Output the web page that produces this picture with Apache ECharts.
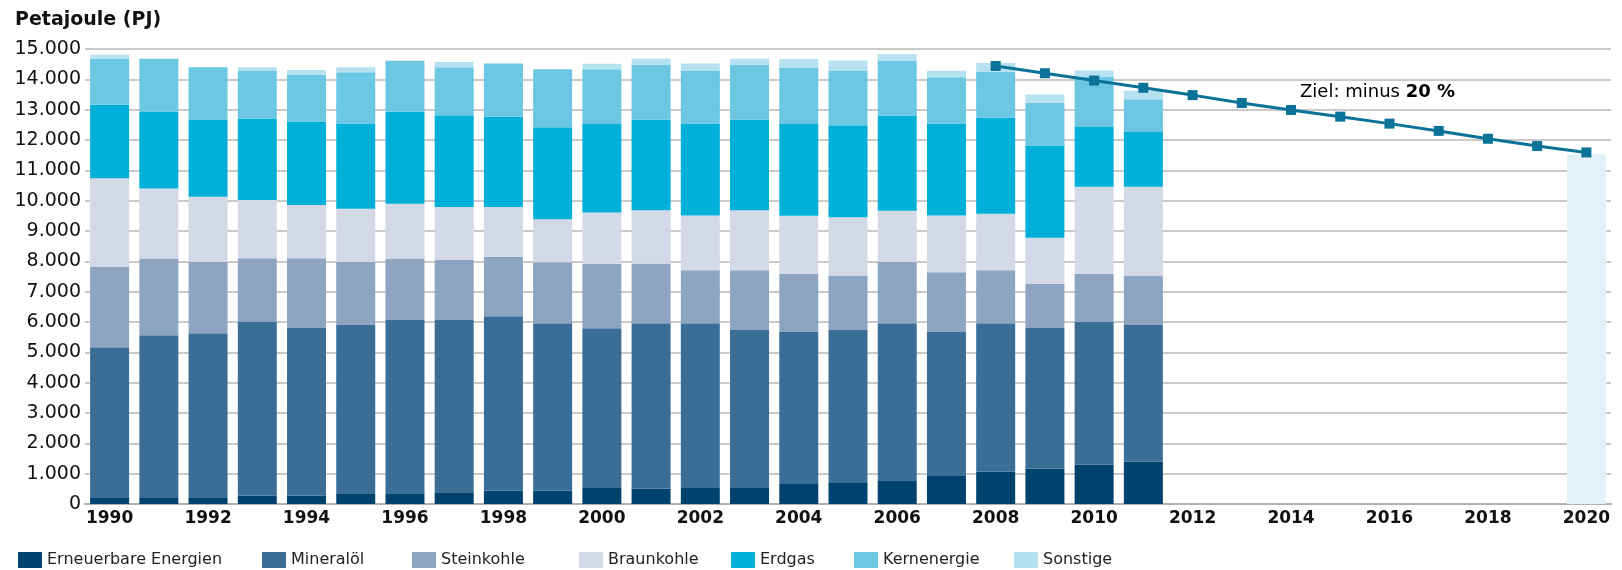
<!DOCTYPE html>
<html>
<head>
<meta charset="UTF-8">
<title>Energieverbrauch</title>
<script src="https://cdn.jsdelivr.net/npm/echarts@6/dist/echarts.min.js"></script>
<style>
  html, body { margin: 0; padding: 0; background: #fff; }
  #main { width: 1622px; height: 570px; }
</style>
</head>
<body>
<div id="main"></div>
<script>
// Jahre 1990 - 2020
var years = [];
for (var y = 1990; y <= 2020; y++) years.push(String(y));

// Primärenergieverbrauch je Träger (PJ), 1990 - 2011
var erneuerbare = [220, 220, 220, 280, 280, 330, 330, 390, 440, 440, 550, 500, 550, 550, 660, 720, 780, 950, 1060, 1170, 1290, 1400];
var mineraloel  = [4950, 5340, 5410, 5740, 5520, 5570, 5740, 5680, 5750, 5520, 5240, 5460, 5410, 5190, 5010, 5020, 5180, 4720, 4900, 4630, 4720, 4500];
var steinkohle  = [2640, 2530, 2350, 2080, 2300, 2080, 2020, 1970, 1960, 2010, 2130, 1970, 1750, 1970, 1910, 1790, 2020, 1970, 1750, 1460, 1580, 1630];
var braunkohle  = [2930, 2310, 2150, 1920, 1760, 1750, 1810, 1750, 1640, 1420, 1690, 1750, 1800, 1970, 1920, 1920, 1690, 1870, 1860, 1520, 2870, 2930];
var erdgas      = [2420, 2540, 2530, 2690, 2750, 2810, 3030, 3030, 2980, 3030, 2920, 2990, 3030, 2990, 3030, 3040, 3140, 3030, 3160, 3040, 1970, 1800];
var kernenergie = [1520, 1740, 1740, 1580, 1530, 1690, 1680, 1580, 1750, 1910, 1800, 1800, 1750, 1800, 1860, 1800, 1810, 1530, 1520, 1410, 1660, 1080];
var sonstige    = [130, 0, 0, 110, 170, 170, 0, 170, 0, 0, 180, 210, 230, 210, 280, 330, 210, 210, 290, 270, 200, 280];

// Zielpfad 2008 - 2020 und Zielwert 2020
var zielJahre = ['2008', '2009', '2010', '2011', '2012', '2013', '2014', '2015', '2016', '2017', '2018', '2019', '2020'];
var zielWerte = [14440, 14200, 13960, 13720, 13480, 13220, 12990, 12770, 12540, 12300, 12040, 11800, 11590];
var ziel2020 = 11530;

var chart = echarts.init(document.getElementById('main'));

function pad(arr) {
	var out = arr.slice();
	while (out.length < years.length) out.push(null);
	return out;
}

var zielLinie = years.map(function (yr) {
	var i = zielJahre.indexOf(yr);
	return i < 0 ? null : zielWerte[i];
});
var zielBalken = years.map(function (yr) {
	return yr === '2020' ? ziel2020 : null;
});

var font = 'DejaVu Sans';
var names = ['Erneuerbare Energien', 'Mineralöl', 'Steinkohle', 'Braunkohle', 'Erdgas', 'Kernenergie', 'Sonstige'];
var colors = ['#00426e', '#3b6e96', '#8ea5c1', '#d3d9e6', '#00b0d8', '#6bc7e2', '#b5e1f0'];
var werte = [erneuerbare, mineraloel, steinkohle, braunkohle, erdgas, kernenergie, sonstige];
var legendLeft = [18, 262, 412, 579, 731, 854, 1014];

var series = names.map(function (n, i) {
	return {
		name: n,
		type: 'bar',
		stack: 'pj',
		barWidth: 39,
		itemStyle: { color: colors[i] },
		data: pad(werte[i])
	};
});
series.push({
	name: 'Ziel 2020',
	type: 'bar',
	stack: 'pj',
	barWidth: 39,
	itemStyle: { color: '#e3f2f8' },
	data: zielBalken
});
series.push({
	name: 'Zielpfad',
	type: 'line',
	data: zielLinie,
	symbol: 'rect',
	symbolSize: 10,
	z: 5,
	lineStyle: { color: '#0b7398', width: 3 },
	itemStyle: { color: '#0b7398' }
});

// jede Legende einzeln, damit die Abstände wie im Original sitzen
var legends = names.map(function (n, i) {
	return {
		data: [n],
		left: legendLeft[i],
		top: 551,
		padding: 0,
		itemWidth: 24,
		itemHeight: 16,
		icon: 'rect',
		textStyle: { fontFamily: font, fontSize: 16, color: '#222', lineHeight: 18 }
	};
});

var option = {
	animation: false,
	backgroundColor: '#fff',
	title: {
		text: 'Petajoule (PJ)',
		left: 10,
		top: 6,
		textStyle: { fontFamily: font, fontSize: 19, fontWeight: 'bold', color: '#111' }
	},
	legend: legends,
	grid: { left: 85, right: 11, top: 49, bottom: 66 },
	xAxis: {
		type: 'category',
		data: years,
		axisTick: { show: false },
		axisLine: { lineStyle: { color: '#b0b0b0', width: 2 } },
		axisLabel: {
			interval: 1,
			margin: 6,
			fontFamily: font,
			fontSize: 17,
			fontWeight: 'bold',
			color: '#111'
		}
	},
	yAxis: {
		type: 'value',
		min: 0,
		max: 15000,
		interval: 1000,
		axisLine: { show: false },
		axisTick: { show: false },
		splitLine: { lineStyle: { color: '#b8b8b8', width: 1.5 } },
		axisLabel: {
			margin: 4,
			fontFamily: font,
			fontSize: 19,
			color: '#111',
			formatter: function (v) {
				return String(v).replace(/\B(?=(\d{3})+(?!\d))/g, '.');
			}
		}
	},
	graphic: [{
		type: 'text',
		left: 1300,
		top: 83,
		style: {
			text: '{r|Ziel: minus }{b|20 %}',
			rich: {
				r: { fontFamily: font, fontSize: 18, color: '#222' },
				b: { fontFamily: font, fontSize: 18, fontWeight: 'bold', color: '#222' }
			}
		}
	}],
	series: series
};

chart.setOption(option);
</script>
</body>
</html>
